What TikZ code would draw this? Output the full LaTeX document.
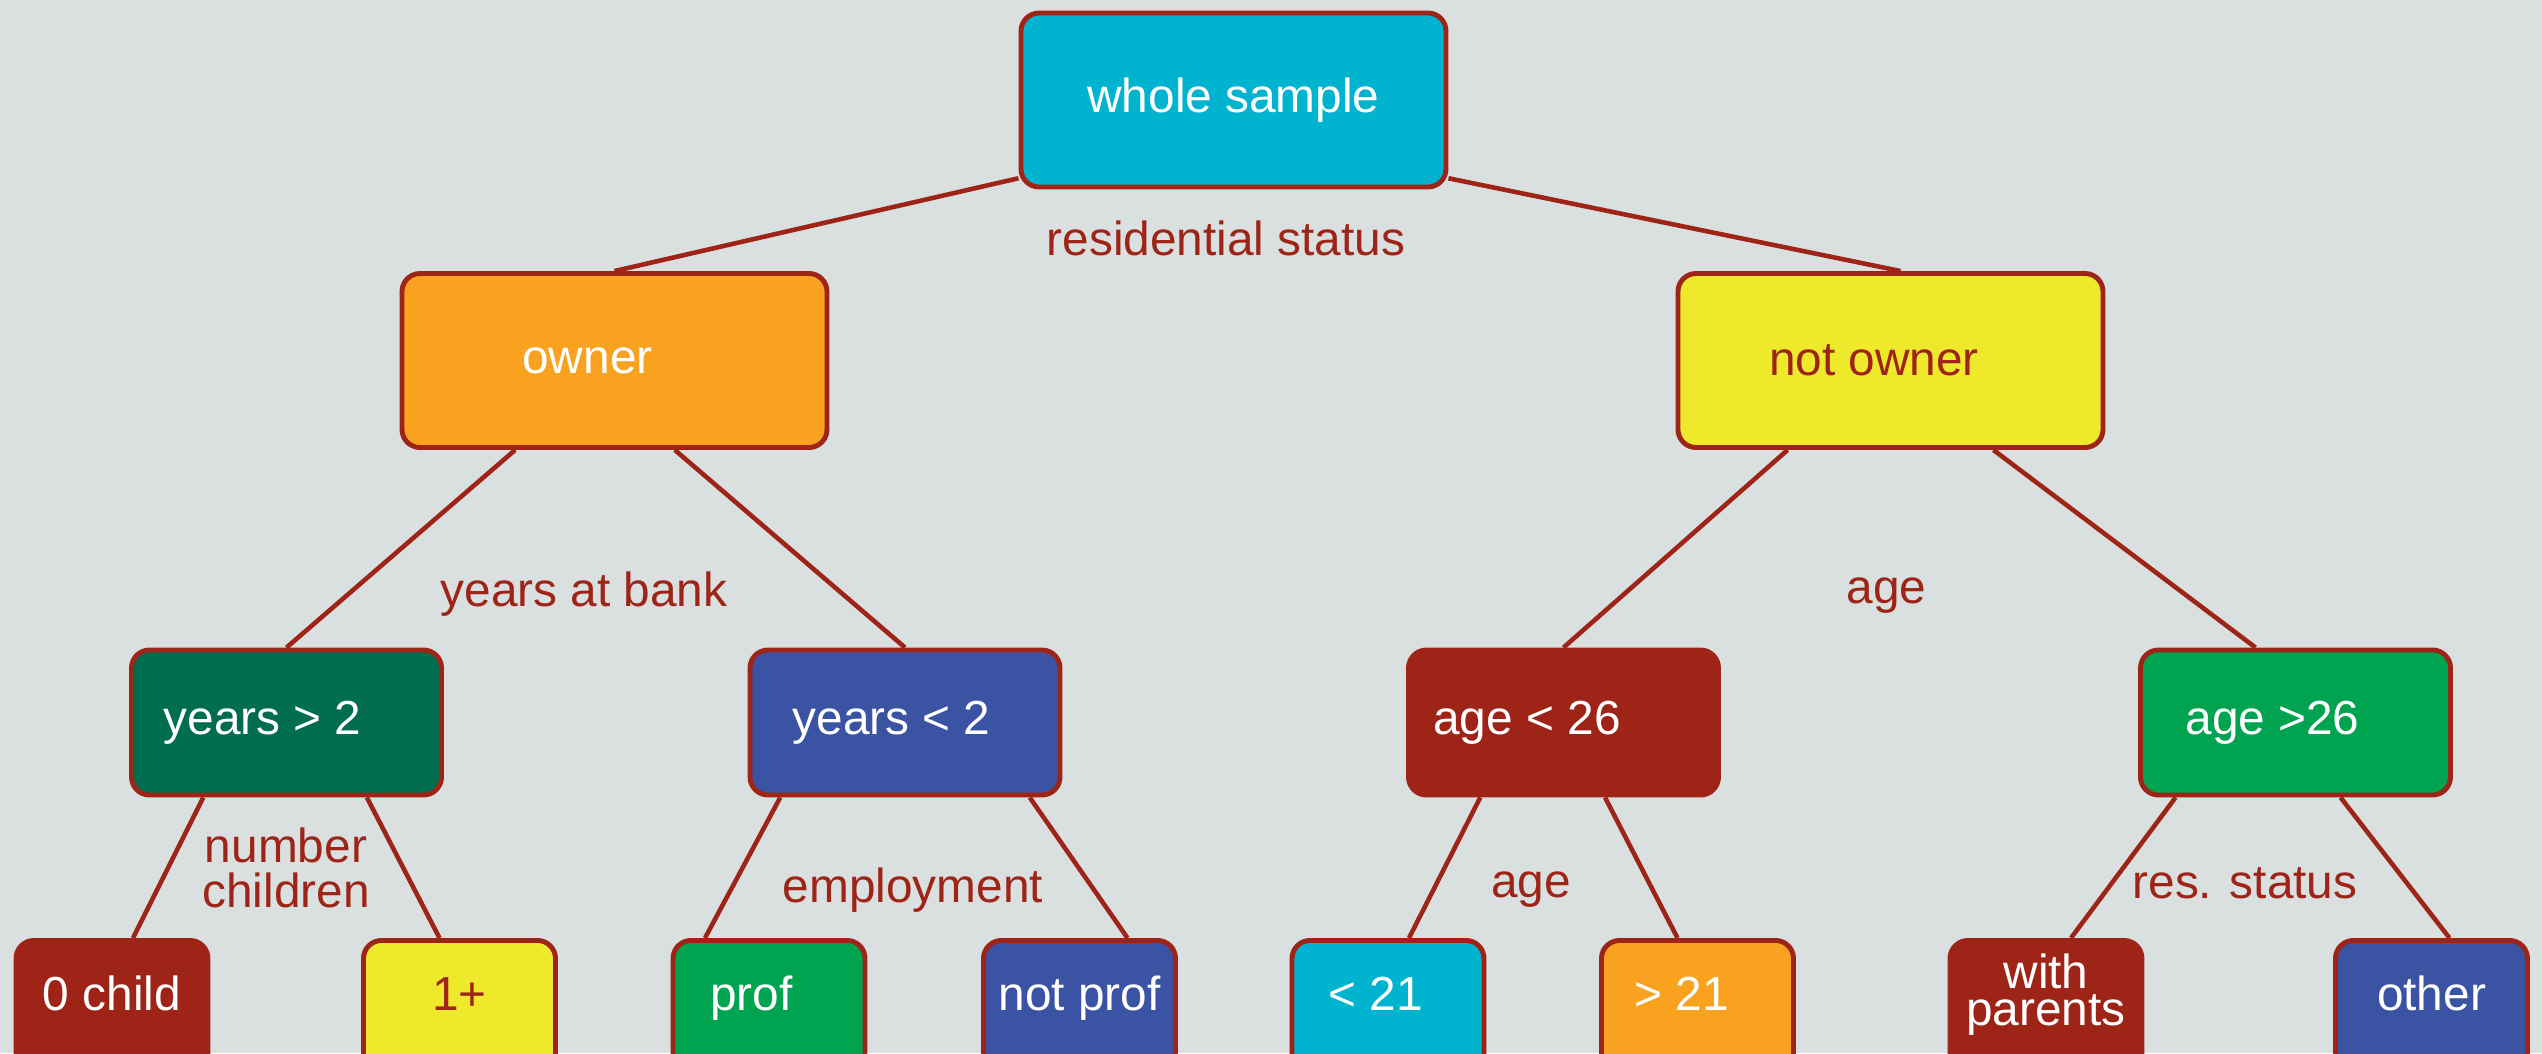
\documentclass[tikz,border=0pt]{standalone}
\usepackage{fontspec}
\setmainfont{Liberation Sans}
\usepackage{xcolor}
\definecolor{bgcol}{HTML}{DAE0E0}
\definecolor{tred}{HTML}{9E2417}
\definecolor{tcyan}{HTML}{00B3CF}
\definecolor{torange}{HTML}{F9A220}
\definecolor{tyellow}{HTML}{EFE92B}
\definecolor{tdgreen}{HTML}{006D4F}
\definecolor{tblue}{HTML}{3A53A3}
\definecolor{tgreen}{HTML}{00A450}

\begin{document}
\begin{tikzpicture}[
  box/.style={draw=tred, line width=1.4pt, rounded corners=0.18cm, text=white, inner sep=0.1cm, font=\fontsize{13.6}{10.5}\selectfont},
  top/.style={box, minimum width=4.25cm, minimum height=1.74cm},
  sub/.style={box, minimum width=3.1cm, minimum height=1.45cm},
  leaf/.style={box, minimum width=1.92cm, anchor=north, text height=0.6cm, text depth=0.75cm},
  tshift/.style={execute at end node={\hspace*{#1}}},
  lbl/.style={text=tred, font=\fontsize{13.6}{12.8}\selectfont, align=center},
  edge/.style={draw=tred, line width=1.3pt}
]
\fill[bgcol] (0,0) rectangle (25.42,-10.53);
\useasboundingbox (0,0) rectangle (25.42,-10.53);

% root and first split
\node[top, fill=tcyan] (ws) at (12.335,-1.00) {whole sample};
\node[top, fill=torange, tshift=0.54cm] (owner) at (6.145,-3.605) {owner};
\node[top, fill=tyellow, text=tred, tshift=0.33cm] (notowner) at (18.905,-3.605) {not owner};

% second level
\node[sub, fill=tdgreen, tshift=0.48cm] (yrsgt) at (2.865,-7.225) {years > 2};
\node[sub, fill=tblue, tshift=0.27cm] (yrslt) at (9.05,-7.225) {years < 2};
\node[sub, fill=tred, tshift=0.73cm] (agelt) at (15.635,-7.225) {age < 26};
\node[sub, fill=tgreen, tshift=0.46cm] (agegt) at (22.955,-7.225) {age >26};

% leaves
\node[leaf, fill=tred] (nochild) at (1.12,-9.38) {0 child};
\node[leaf, fill=tyellow, text=tred] (onechild) at (4.595,-9.38) {1+};
\node[leaf, fill=tgreen, tshift=0.35cm] (prof) at (7.69,-9.38) {prof};
\node[leaf, fill=tblue] (notprof) at (10.795,-9.38) {not prof};
\node[leaf, fill=tcyan, tshift=0.24cm] (lttwo) at (13.88,-9.38) {< 21};
\node[leaf, fill=torange, tshift=0.32cm] (gttwo) at (16.975,-9.38) {> 21};
\node[leaf, fill=tred, align=center, text height=0.75cm, text depth=0.6cm] (withpar) at (20.46,-9.38) {with\\parents};
\node[leaf, fill=tblue] (other) at (24.315,-9.38) {other};

% split labels
\node[lbl] (resstatus) at (12.26,-2.38) {residential status};
\node[lbl] (yrsbank) at (5.84,-5.945) {years at bank};
\node[lbl] (agetop) at (18.865,-5.96) {age};
\node[lbl] (nchildren) at (2.86,-8.675) {number\\children};
\node[lbl] (employ) at (9.13,-8.90) {employment};
\node[lbl] (agebot) at (15.31,-8.90) {age};
\node[lbl] (resshort) at (22.45,-8.83) {res. status};

% connectors
\draw[edge] (ws.200) -- (owner.north);
\draw[edge] (ws.340) -- ([xshift=0.1cm]notowner.north);
\draw[edge] (owner.222) -- (yrsgt.north);
\draw[edge] (owner.304) -- (yrslt.north);
\draw[edge] (notowner.221) -- (agelt.north);
\draw[edge] (notowner.319) -- ([xshift=-0.4cm]agegt.north);
\draw[edge] (yrsgt.222) -- ([xshift=0.21cm]nochild.north);
\draw[edge] (yrsgt.317) -- ([xshift=-0.2cm]onechild.north);
\draw[edge] (yrslt.211) -- ([xshift=-0.64cm]prof.north);
\draw[edge] (yrslt.329) -- ([xshift=0.48cm]notprof.north);
\draw[edge] (agelt.222) -- ([xshift=0.21cm]lttwo.north);
\draw[edge] (agelt.299) -- ([xshift=-0.2cm]gttwo.north);
\draw[edge] (agegt.212) -- ([xshift=0.25cm]withpar.north);
\draw[edge] (agegt.301) -- ([xshift=0.18cm]other.north);
\end{tikzpicture}
\end{document}
